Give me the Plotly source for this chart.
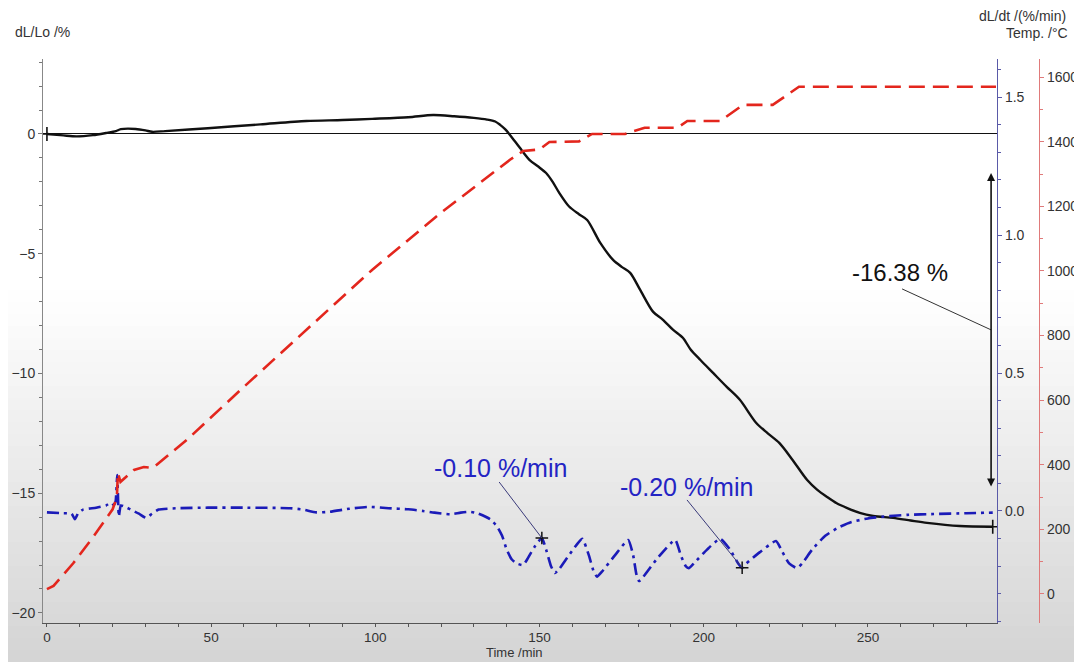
import plotly.graph_objects as go

# ---------------- data ----------------
# Black: dL/Lo (%) vs time (min)
t_dl = [0, 5, 9, 14, 18, 21, 22.5, 27, 30, 32, 36, 49, 65, 79, 90, 99, 110, 117.6, 124, 130,
        134, 136.5, 138, 139.5, 141, 144, 147, 149.5, 152, 154, 156, 159, 162, 164.5, 168.5,
        172.4, 175, 177.6, 180.6, 184.6, 187.5, 190.7, 193.7, 196, 199, 203, 207, 211, 216,
        219.5, 223, 227, 231.5, 234.5, 237.6, 240.5, 243.7, 247.5, 251.6, 257.7, 263, 268,
        278, 288]
dl_lo = [0, -0.06, -0.1, -0.05, 0.04, 0.12, 0.2, 0.21, 0.15, 0.09, 0.12, 0.24, 0.4, 0.54,
         0.58, 0.63, 0.7, 0.79, 0.74, 0.67, 0.6, 0.52, 0.38, 0.2, -0.04, -0.58, -1.09, -1.35,
         -1.63, -2.0, -2.46, -3.03, -3.35, -3.59, -4.55, -5.26, -5.55, -5.8, -6.5, -7.43,
         -7.75, -8.18, -8.52, -9.0, -9.44, -10.0, -10.56, -11.1, -12.07, -12.5, -12.9, -13.6,
         -14.45, -14.85, -15.16, -15.42, -15.62, -15.82, -15.95, -16.03, -16.14, -16.24,
         -16.37, -16.40]

# Red: temperature (°C)
t_temp = [0, 2, 8, 14, 20, 21.3, 21.6, 22.4, 26.5, 29.5, 32.3, 42.6, 59, 79, 99, 120, 141,
          145, 150, 153, 162, 166, 176, 182, 192, 195, 205, 212, 221, 229, 289]
temp = [15, 25, 95, 175, 262, 300, 375, 347, 384, 393, 390, 477, 632, 817, 1003, 1180, 1344,
        1371, 1376, 1399, 1401, 1424, 1424, 1443, 1443, 1464, 1464, 1514, 1514, 1570, 1570]

# Blue: dL/dt (%/min)
t_rate = [0, 5, 7.5, 8.5, 9.5, 11, 15, 18, 19.5, 20.3, 20.9, 21.4, 21.9, 22.5, 23.8, 26, 28,
          30.2, 32, 34, 40, 49, 60, 74, 78, 82, 86, 92, 98, 104, 110, 114.5, 118, 122.7, 126,
          128.8, 131, 135, 137, 138.6, 140, 141.5, 143, 145, 146.5, 148.5, 150.7, 152, 153.5,
          154.7, 156, 159, 163, 165, 166.5, 167.5, 169, 173, 177, 178.5, 179.5, 180.3, 181.5,
          186, 191.3, 193, 194.5, 195.5, 197, 201, 205, 208, 210.5, 211.7, 213, 217, 222, 224,
          226, 228.4, 230, 233, 237, 241, 245, 250, 256, 262, 270, 280, 288]
rate = [-0.005, -0.008, -0.01, -0.03, -0.008, 0.005, 0.012, 0.02, 0.03, 0.022, 0.035, 0.13,
        -0.02, 0.02, 0.015, 0.002, -0.01, -0.025, -0.01, 0.005, 0.01, 0.012, 0.012, 0.01, 0.005,
        -0.005, -0.003, 0.008, 0.015, 0.01, 0.006, 0.0, -0.006, -0.012, -0.006, -0.003, -0.008,
        -0.03, -0.055, -0.09, -0.14, -0.175, -0.19, -0.196, -0.17, -0.13, -0.098, -0.14, -0.2,
        -0.225, -0.21, -0.16, -0.101, -0.16, -0.22, -0.238, -0.22, -0.16, -0.105, -0.16, -0.23,
        -0.254, -0.24, -0.17, -0.105, -0.16, -0.2, -0.207, -0.19, -0.14, -0.101, -0.14, -0.19,
        -0.206, -0.19, -0.15, -0.109, -0.15, -0.19, -0.207, -0.19, -0.14, -0.09, -0.06, -0.04,
        -0.027, -0.019, -0.014, -0.011, -0.008, -0.006]

x_ticks = [0, 50, 100, 150, 200, 250]
rate_marks_t = [150.7, 211.7]   # points marked with "+" on the rate curve
total_change_label = "-16.38 %"
rate_labels = ["-0.10 %/min", "-0.20 %/min"]

# ---------------- style ----------------
BLACK = "#111111"
RED = "#e3261d"
BLUE = "#1b1bb8"
BLUE_TXT = "#2424c4"
FONT_FAM = "Liberation Sans, Arial, sans-serif"
TICK_FONT = dict(family=FONT_FAM, size=14, color="#333333")

# the page body adds an 8 px offset; the figure is sized so it fits the window
OFF = 8
W, H = 1082 - OFF, 662 - OFF

fig = go.Figure()

fig.add_trace(go.Scatter(x=t_temp, y=temp, yaxis="y3", mode="lines",
                         line=dict(color=RED, width=2.6, dash="16px,8px"),
                         hoverinfo="skip"))
fig.add_trace(go.Scatter(x=t_rate, y=rate, yaxis="y2", mode="lines",
                         line=dict(color=BLUE, width=2.6, dash="12px,5px,3px,5px",
                                   shape="spline", smoothing=0.5),
                         hoverinfo="skip"))
fig.add_trace(go.Scatter(x=t_dl, y=dl_lo, yaxis="y", mode="lines",
                         line=dict(color=BLACK, width=2.4, shape="spline", smoothing=0.8),
                         hoverinfo="skip"))

# "+" markers
idx_r = [t_rate.index(v) for v in rate_marks_t]
fig.add_trace(go.Scatter(x=[t_rate[i] for i in idx_r], y=[rate[i] for i in idx_r], yaxis="y2",
                         mode="markers",
                         marker=dict(symbol="cross-thin", size=9, line=dict(color=BLACK, width=1.5)),
                         hoverinfo="skip"))
fig.add_trace(go.Scatter(x=[t_dl[0], t_dl[-1]], y=[dl_lo[0], dl_lo[-1]], yaxis="y",
                         mode="markers",
                         marker=dict(symbol="cross-thin", size=10, line=dict(color=BLACK, width=1.6)),
                         hoverinfo="skip"))

# ---------------- background gradient (screenshot look) ----------------
shapes = []
PLOT_TOP, PLOT_BOT = 59, 623          # in window pixels
def py2paper(py):
    return (PLOT_BOT - py) / (PLOT_BOT - PLOT_TOP)
def px2paper(px):
    return (px - 43) / 996
start, end, n = 290, 662, 31
for k in range(n):
    y0 = start + (end - start) * k / n
    y1 = start + (end - start) * (k + 1) / n
    c = int(round(255 - 43 * ((k + 0.5) / n)))
    shapes.append(dict(type="rect", xref="paper", yref="paper", x0=-0.06, x1=1.06,
                       y0=py2paper(y1) - 0.002, y1=py2paper(y0),
                       fillcolor=f"rgb({c},{c},{c})", line=dict(width=0), layer="below"))

# leader lines
shapes.append(dict(type="line", xref="x", yref="y", x0=260.4, y0=-6.47, x1=287.5, y1=-8.18,
                   line=dict(color="#333333", width=1)))
shapes.append(dict(type="line", xref="x", yref="y2", x0=137.7, y0=0.105,
                   x1=t_rate[idx_r[0]], y1=rate[idx_r[0]], line=dict(color="#3a3a7a", width=1)))
shapes.append(dict(type="line", xref="x", yref="y2", x0=194.9, y0=0.04,
                   x1=t_rate[idx_r[1]], y1=rate[idx_r[1]], line=dict(color="#3a3a7a", width=1)))

annotations = [
    # double-headed arrow
    dict(x=287.5, y=-1.63, ax=287.5, ay=-14.78, xref="x", yref="y", axref="x", ayref="y",
         text="", showarrow=True, arrowhead=2, arrowside="end+start", arrowsize=1,
         arrowwidth=1.6, arrowcolor=BLACK),
    dict(x=259.8, y=-5.8, xref="x", yref="y", text=total_change_label, showarrow=False,
         font=dict(family=FONT_FAM, size=24, color="#111111")),
    dict(x=138, y=0.156, xref="x", yref="y2", text=rate_labels[0], showarrow=False,
         font=dict(family=FONT_FAM, size=25, color=BLUE_TXT)),
    dict(x=194.6, y=0.087, xref="x", yref="y2", text=rate_labels[1], showarrow=False,
         font=dict(family=FONT_FAM, size=25, color=BLUE_TXT)),
    # axis titles
    dict(x=px2paper(13), y=py2paper(32), xref="paper", yref="paper", text="dL/Lo /%",
         showarrow=False, xanchor="left", yanchor="middle", font=TICK_FONT),
    dict(x=px2paper(1068), y=py2paper(16), xref="paper", yref="paper",
         text="dL/dt /(%/min)", showarrow=False, xanchor="right", yanchor="middle", font=TICK_FONT),
    dict(x=px2paper(1070), y=py2paper(33), xref="paper", yref="paper",
         text="Temp. /°C", showarrow=False, xanchor="right", yanchor="middle", font=TICK_FONT),
    dict(x=px2paper(514), y=py2paper(652), xref="paper", yref="paper",
         text="Time /min", showarrow=False, xanchor="center", yanchor="middle",
         font=dict(family=FONT_FAM, size=13, color="#333333")),
]

fig.update_layout(
    width=W, height=H,
    margin=dict(l=43 - OFF, r=W - (1039 - OFF), t=59 - OFF, b=H - (623 - OFF), autoexpand=False),
    paper_bgcolor="white", plot_bgcolor="rgba(0,0,0,0)",
    showlegend=False,
    shapes=shapes, annotations=annotations,
    xaxis=dict(domain=[0, (997 - 43) / 996], range=[-1.2, 289.3], showgrid=False,
               automargin=False,
               zeroline=False, showline=True, linecolor="#555555", linewidth=1.2,
               ticks="outside", ticklen=2, tickcolor="#555555", tickvals=x_ticks,
               minor=dict(dtick=10, tick0=0, ticks="outside", ticklen=3, tickcolor="#555555"),
               tickfont=dict(family=FONT_FAM, size=13.5, color="#333333")),
    yaxis=dict(range=[-20.42, 3.13], showgrid=False, zeroline=True, zerolinecolor="#111111",
               automargin=False,
               zerolinewidth=1.2, showline=True, linecolor="#888888", linewidth=1,
               ticks="outside", ticklen=4, tickcolor="#777777", dtick=5, tick0=0,
               minor=dict(dtick=1, ticks="outside", ticklen=3, tickcolor="#777777"),
               tickfont=TICK_FONT),
    yaxis2=dict(overlaying="y", side="right", anchor="x", range=[-0.406, 1.638],
                automargin=False,
                showgrid=False, zeroline=False, showline=True, linecolor="#5a5aa8",
                linewidth=1.2, ticks="outside", ticklen=4, tickcolor="#5a5aa8", dtick=0.5,
                tick0=0, tickformat=".1f",
                minor=dict(dtick=0.1, ticks="outside", ticklen=3, tickcolor="#5a5aa8"),
                tickfont=TICK_FONT),
    yaxis3=dict(overlaying="y", side="right", anchor="free", position=1.0,
                automargin=False,
                range=[-90, 1656], showgrid=False, zeroline=False, showline=True,
                linecolor="#e07a7a", linewidth=1.2, ticks="outside", ticklen=4,
                tickcolor="#e07a7a", dtick=200, tick0=0,
                minor=dict(dtick=100, ticks="outside", ticklen=3, tickcolor="#e07a7a"),
                tickfont=TICK_FONT),
)

fig.write_html("out.html")
